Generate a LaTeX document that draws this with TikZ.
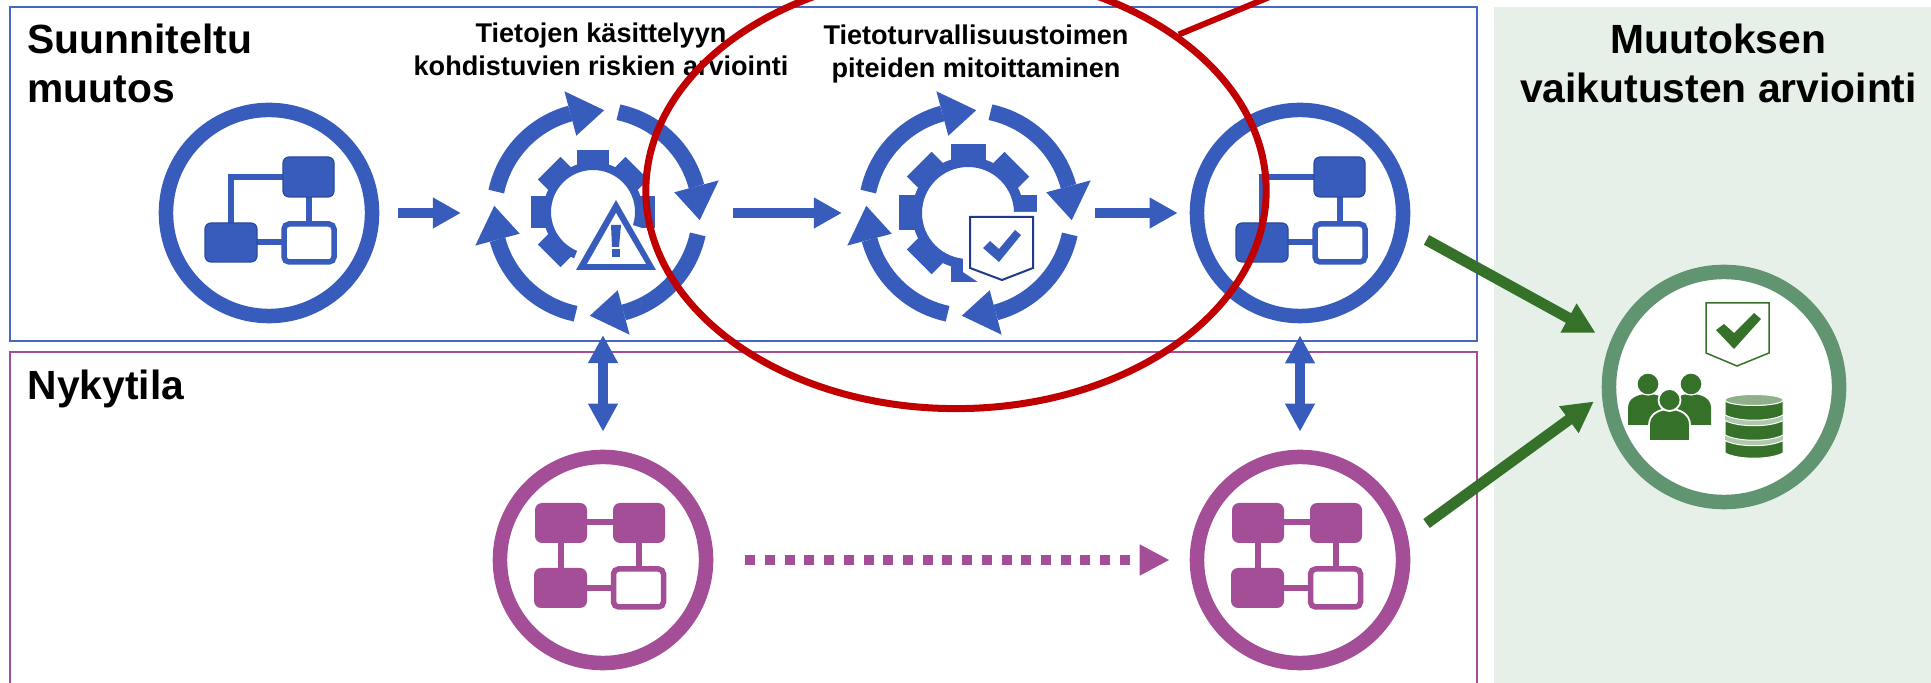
\documentclass[tikz,border=0pt]{standalone}
\usepackage{fontspec}
\setmainfont{Liberation Sans}
\usetikzlibrary{arrows.meta,shapes.geometric}

\definecolor{planblue}{HTML}{385CBC}
\definecolor{planline}{HTML}{4468C8}
\definecolor{planedge}{HTML}{2A4A9C}
\definecolor{shieldedge}{HTML}{1F3A8C}
\definecolor{nowpurple}{HTML}{A34E96}
\definecolor{panelgreen}{HTML}{E6F0E8}
\definecolor{ringgreen}{HTML}{619470}
\definecolor{darkgreen}{HTML}{357129}
\definecolor{lightgreen}{HTML}{8FB08A}
\definecolor{focusred}{HTML}{C00000}

\tikzset{
	flowring/.style={circle, draw=#1, line width=.145cm, fill=white, minimum size=2.06cm, inner sep=0pt},
	cyclearea/.style={circle, minimum size=2.52cm, inner sep=0pt, outer sep=0pt},
	flowarrow/.style={draw=planblue, line width=.1cm, arrows={-{Triangle[length=.28cm,width=.29cm]}}},
	twoarrow/.style={draw=planblue, line width=.1cm, arrows={{Triangle[length=.28cm,width=.28cm]}-{Triangle[length=.28cm,width=.28cm]}}},
	nowarrow/.style={draw=nowpurple, line width=.1cm, dash pattern=on .1cm off .097cm, arrows={-{Triangle[length=.3cm,width=.29cm,fill=nowpurple]}}},
	effectarrow/.style={draw=darkgreen, line width=.11cm, arrows={-{Triangle[length=.31cm,width=.31cm]}}},
	headtext/.style={font=\fontsize{11.6}{13.94}\selectfont\bfseries, inner sep=0pt},
	stepcaption/.style={font=\fontsize{7.7}{9.39}\selectfont\bfseries, align=center, inner sep=0pt},
	linkline/.style={line width=.06cm},
}

% three boxes, the white one lower right
\newcommand{\planicon}[1]{
	\begin{scope}[shift={(#1)}]
		\draw [linkline, planblue] (-38,10) -- (-38,-36) -- (14,-36);
		\draw [linkline, planblue] (-12,29) -- (15,29);
		\draw [linkline, planblue] (40,-16) -- (40,11);
		\draw [planedge, fill=planblue, line width=.012cm, rounded corners=.06cm] (14,-56) rectangle (65,-16);
		\draw [planedge, fill=planblue, line width=.012cm, rounded corners=.06cm] (-64,10) rectangle (-12,49);
		\draw [planblue, fill=white, line width=.055cm, rounded corners=.05cm] (15,11) rectangle (65,49);
	\end{scope}
}
\newcommand{\nowicon}[1]{
	\begin{scope}[shift={(#1)}]
		\draw [linkline, nowpurple] (-16,-38) -- (10,-38);
		\draw [linkline, nowpurple] (-42,-17) -- (-42,8);
		\draw [linkline, nowpurple] (36,-17) -- (36,9);
		\draw [linkline, nowpurple] (-16,28) -- (11,28);
		\fill [nowpurple, rounded corners=.07cm] (-68,-57) rectangle (-16,-17);
		\fill [nowpurple, rounded corners=.07cm] (10,-57) rectangle (62,-17);
		\fill [nowpurple, rounded corners=.07cm] (-69,8) rectangle (-16,48);
		\draw [nowpurple, fill=white, line width=.055cm, rounded corners=.05cm] (10.5,9) rectangle (60.5,47);
	\end{scope}
}
% four arcs with heads, clockwise
\newcommand{\cyclearrows}[1]{
	\begin{scope}[shift={(#1)}]
		\foreach \s/\e/\t in {-168/-105/-86, -78/-15/4, 12/75/94, 102/165/184} {
			\draw [planblue, line width=.16cm] plot [domain=\s:\e, samples=20] (\x:103);
			\fill [planblue] (\e:126) -- (\t:103) -- (\e:80) -- cycle;
		}
	\end{scope}
}
% #1 centre, #2 inner, #3 body, #4 outer, #5 half tooth
\newcommand{\gearicon}[5]{
	\begin{scope}[shift={(#1)}]
		\fill [planblue, even odd rule] (0,0) circle (#3) (0,0) circle (#2);
		\foreach \a in {0,45,...,315} {
			\fill [planblue, rotate=\a] ({#2+3},-#5) rectangle (#4,#5);
		}
	\end{scope}
}

\begin{document}
\begin{tikzpicture}[x=.01cm, y=-.01cm]
	\path [use as bounding box, clip] (0,0) rectangle (1931,683);
	\fill [panelgreen] (1494,7) rectangle (1931,683);
	\draw [planline, line width=.02cm] (10,7) rectangle (1477,341);
	\draw [nowpurple, line width=.02cm] (10,352) rectangle (1477,720);

	\node [flowring=planblue] (flowA) at (269,213) {};
	\node [cyclearea] (cycleA) at (597,213) {};
	\node [cyclearea] (cycleB) at (969,213) {};
	\node [flowring=planblue] (flowB) at (1300,213) {};
	\node [flowring=nowpurple] (nowA) at (603,560) {};
	\node [flowring=nowpurple] (nowB) at (1300,560) {};
	\node [circle, draw=ringgreen, line width=.145cm, fill=white, minimum size=2.3cm, inner sep=0pt] (effect) at (1724,387) {};

	\planicon{flowA}
	\planicon{flowB}
	\nowicon{nowA}
	\nowicon{nowB}

	% gear with warning sign
	\gearicon{593,212}{42}{50}{62}{16}
	\fill [white] (593,212) -- (669,237) -- (680,300) -- (563,286) -- cycle;
	\fill [planblue] (616,200) -- (656,270) -- (576,270) -- cycle;
	\fill [white] (616,213) -- (646,264) -- (587,264) -- cycle;
	\fill [planblue] (611,225) -- (621,225) -- (619,247) -- (612,247) -- cycle;
	\fill [planblue] (612,249) rectangle (619.5,257);

	% gear with shield
	\gearicon{968,213}{46}{56}{69}{17.5}
	\fill [white] (1045,212) -- (968,212) -- (963,255) -- (963,272) -- (981,284) -- (1045,284) -- cycle;
	\draw [shieldedge, fill=white, line width=.02cm] (970,217) -- (1033,217) -- (1033,268) -- (1002,280) -- (970,268) -- cycle;
	\fill [planblue] (983,248) -- (990,241) -- (999,249) -- (1015,230) -- (1021,235) -- (999,262) -- cycle;

	\cyclearrows{cycleA}
	\cyclearrows{cycleB}

	% icons in the result circle
	\draw [darkgreen, fill=white, line width=.015cm] (1706,303) -- (1769,303) -- (1769,353) -- (1737,366) -- (1706,353) -- cycle;
	\fill [darkgreen] (1716,330) -- (1724,324) -- (1734,333) -- (1754,313) -- (1761,319) -- (1734,349) -- cycle;
	\fill [darkgreen] (1628,425) -- (1628,408) .. controls (1628,398) and (1638,394) .. (1648,394) .. controls (1658,394) and (1668,398) .. (1668,408) -- (1668,425) -- cycle;
	\fill [darkgreen] (1671,425) -- (1671,408) .. controls (1671,398) and (1681,394) .. (1691,394) .. controls (1701,394) and (1711,398) .. (1711,408) -- (1711,425) -- cycle;
	\draw [white, fill=darkgreen, line width=.012cm] (1648,384) circle (11);
	\draw [white, fill=darkgreen, line width=.012cm] (1691,384) circle (11);
	\draw [white, fill=darkgreen, line width=.018cm] (1649,441) -- (1649,425) .. controls (1649,414) and (1659,409) .. (1669.5,409) .. controls (1680,409) and (1690,414) .. (1690,425) -- (1690,441) -- cycle;
	\draw [white, fill=darkgreen, line width=.018cm] (1669.5,400) circle (11);

	\fill [lightgreen!70!white] (1725,402) rectangle (1783,450);
	\foreach \a/\b in {400/415, 420.5/435, 440.5/453} {
		\draw [white, fill=darkgreen, line width=.01cm] (1725,\a) .. controls (1738,\a+7) and (1770,\a+7) .. (1783,\a) -- (1783,\b) .. controls (1770,\b+7) and (1738,\b+7) .. (1725,\b) -- cycle;
	}
	\draw [white, fill=lightgreen, line width=.01cm] (1754,400) ellipse [x radius=29, y radius=5.5];

	% connectors
	\draw [flowarrow, shorten <=.19cm, shorten >=.1cm] (flowA) -- (cycleA);
	\draw [flowarrow, shorten <=.1cm, shorten >=.01cm] (cycleA) -- (cycleB);
	\draw [flowarrow, shorten >=.12cm] (cycleB) -- (flowB);
	\draw [twoarrow, shorten <=.18cm, shorten >=-.04cm] (nowA.north) -- (nowA.north |- cycleA.south);
	\draw [twoarrow, shorten <=.18cm, shorten >=.12cm] (nowB.north) -- (flowB.south);
	\draw [nowarrow, shorten <=.32cm, shorten >=.2cm] (nowA) -- (nowB);
	\draw [effectarrow, shorten <=.2cm, shorten >=.17cm] (flowB.-9.5) -- (effect.158.5);
	\draw [effectarrow, shorten <=.23cm, shorten >=.1cm] (nowB.12.4) -- (effect.184.3);

	\node [headtext, anchor=base west, align=left] (planhead) at (27,103) {Suunniteltu\\muutos};
	\node [headtext, anchor=base west] (nowhead) at (27,400) {Nykytila};
	\node [headtext, anchor=base, align=center] (effecthead) at (1718.5,103) {Muutoksen\\vaikutusten arviointi};
	\node [stepcaption, anchor=base] (riskcaption) at (601,76) {Tietojen käsittelyyn\\kohdistuvien riskien arviointi};
	\node [stepcaption, anchor=base] (measurecaption) at (976,78) {Tietoturvallisuustoimen\\piteiden mitoittaminen};

	% red marking over everything
	\node [ellipse, draw=focusred, line width=.07cm, minimum width=6.2cm, minimum height=4.36cm, inner sep=0pt] (focus) at (956,190.5) {};
	\coordinate (focusend) at (1272,-4);
	\draw [focusred, line width=.06cm] (focus.35) -- (focusend);
\end{tikzpicture}
\end{document}
